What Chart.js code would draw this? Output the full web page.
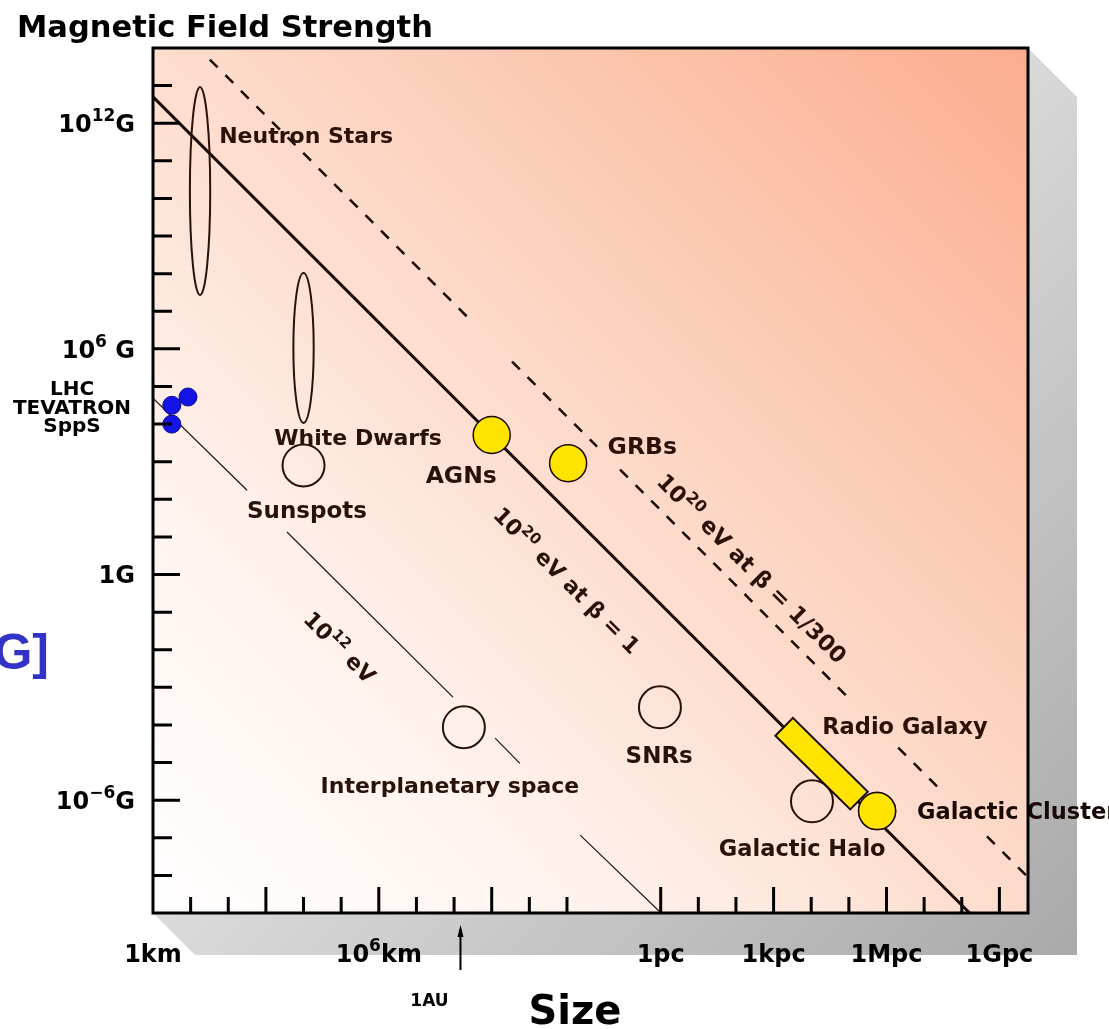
<!DOCTYPE html>
<html>
<head>
<meta charset="utf-8">
<title>Magnetic Field Strength</title>
<script src="https://cdn.jsdelivr.net/npm/chart.js@4.4.0/dist/chart.umd.min.js"></script>
<style>
html, body { margin: 0; padding: 0; background: #fff; }
#wrap { width: 1109px; height: 1029px; }
</style>
</head>
<body>
<div id="wrap"><canvas id="hillas" width="1109" height="1029"></canvas></div>
<script>
// axes are log10(size / km) and log10(B / gauss)
const xRange = [0, 23.25];
const yRange = [-9, 14];

// 10^20 eV at beta = 1
const solidX = [0, 21.7];
const solidY = [12.70, -9.0];

// 10^20 eV at beta = 1/300, broken where labels sit on it
const dashX = [1.51, 8.42, null, 9.54, 11.8, null, 12.41, 18.58, null, 19.8, 20.97, null, 22.16, 23.25];
const dashY = [13.69, 6.78, null, 5.66, 3.40, null, 2.79, -3.38, null, -4.60, -5.77, null, -6.96, -8.05];

// 10^12 eV
const thinX = [0, 2.5, null, 3.56, 7.97, null, 9.09, 9.75, null, 11.35, 13.5];
const thinY = [4.69, 2.24, null, 1.13, -3.26, null, -4.35, -5.02, null, -6.93, -9.0];

// open circles: White Dwarfs, Interplanetary space, SNRs, Galactic Halo
const openX = [4.0, 8.26, 13.47, 17.51];
const openY = [2.9, -4.06, -3.53, -6.03];

// yellow circles: AGNs, GRBs, Galactic Cluster
const yellowX = [9.0, 11.03, 19.24];
const yellowY = [3.71, 2.96, -6.29];

// accelerators: LHC, TEVATRON, SppS
const accelX = [0.93, 0.5, 0.5];
const accelY = [4.72, 4.5, 4.0];

// Radio Galaxy band along the beta = 1 line
const radioX = [16.77, 18.76];
const radioY = [-4.05, -6.01];

// ellipses: Neutron Stars, White Dwarfs (size range, field range)
const ellipseX = [[0.98, 1.52], [3.73, 4.27]];
const ellipseY = [[7.43, 12.96], [4.03, 8.02]];

// ticks
const yTicks = [-8, -7, -6, -5, -4, -3, -2, -1, 0, 1, 2, 3, 4, 5, 6, 7, 8, 9, 10, 11, 12, 13];
const yMajor = [-6, 0, 6, 12];
const yTickLabels = ['10^{\u22126}G', '1G', '10^{6} G', '10^{12}G'];
const xTicks = [1, 2, 3, 4, 5, 6, 7, 8, 9, 10, 11, 13.49, 14.49, 15.49, 16.49, 17.49, 18.49, 19.49, 20.49, 21.49, 22.49];
const xMajor = [3, 6, 9, 13.49, 16.49, 19.49, 22.49];
const xLabelValues = [0, 6, 13.49, 16.49, 19.49, 22.49];
const xTickLabels = ['1km', '10^{6}km', '1pc', '1kpc', '1Mpc', '1Gpc'];
const auValue = 8.17;

const pts = (xs, ys) => xs.map((x, i) => ({ x: x, y: ys[i] }));

const ink = '#2b1209';
const yellow = '#ffe400';
const labelFont = '"DejaVu Sans"';

// text annotations inside the plot, placed in data coordinates
const notes = [
    { t: 'Neutron Stars', x: 4.07, y: 11.69, size: 22 },
    { t: 'White Dwarfs', x: 5.45, y: 3.65, size: 22 },
    { t: 'Sunspots', x: 4.09, y: 1.71, size: 23 },
    { t: 'AGNs', x: 8.19, y: 2.67, size: 23.5 },
    { t: 'GRBs', x: 13.0, y: 3.44, size: 23.5 },
    { t: 'Radio Galaxy', x: 19.98, y: -4.03 },
    { t: 'Galactic Cluster', x: 20.3, y: -6.29, align: 'left', color: '#1a0a05' },
    { t: 'Galactic Halo', x: 17.25, y: -7.28 },
    { t: 'SNRs', x: 13.45, y: -4.80, size: 23 },
    { t: 'Interplanetary space', x: 7.89, y: -5.60, size: 22 },
    { t: '10^{20} eV at \u03b2 = 1', x: 11.0, y: -0.15, angle: Math.PI / 4, size: 22 },
    { t: '10^{20} eV at \u03b2 = 1/300', x: 15.92, y: 0.17, angle: Math.PI / 4 },
    { t: '10^{12} eV', x: 4.97, y: -1.93, angle: Math.PI / 4, size: 22 }
];

const splitRuns = function(str) {
    const out = [];
    const re = /\^\{([^}]*)\}/g;
    let last = 0, m;
    while ((m = re.exec(str))) {
        if (m.index > last) out.push({ t: str.slice(last, m.index), sup: false });
        out.push({ t: m[1], sup: true });
        last = re.lastIndex;
    }
    if (last < str.length) out.push({ t: str.slice(last), sup: false });
    return out;
};

// draws text with superscripts, y is the vertical middle of the capitals
const drawRich = function(ctx, str, x, y, o) {
    const size = o.size || 22.5;
    const family = o.family || labelFont;
    const big = 'bold ' + size + 'px ' + family;
    const small = 'bold ' + Math.round(size * 0.7) + 'px ' + family;
    const parts = splitRuns(str);
    let w = 0;
    parts.forEach(p => {
        ctx.font = p.sup ? small : big;
        p.w = ctx.measureText(p.t).width;
        w += p.w;
    });
    ctx.save();
    ctx.translate(x, y);
    if (o.angle) ctx.rotate(o.angle);
    ctx.fillStyle = o.color || ink;
    ctx.textAlign = 'left';
    ctx.textBaseline = 'alphabetic';
    let cx = o.align === 'left' ? 0 : (o.align === 'right' ? -w : -w / 2);
    const base = size * 0.36;
    parts.forEach(p => {
        ctx.font = p.sup ? small : big;
        ctx.fillText(p.t, cx, p.sup ? base - size * 0.45 : base);
        cx += p.w;
    });
    ctx.restore();
};

const backdrop = {
    id: 'backdrop',
    beforeDraw(chart) {
        const ctx = chart.ctx;
        const a = chart.chartArea;
        ctx.save();
        ctx.fillStyle = '#fff';
        ctx.fillRect(0, 0, chart.width, chart.height);

        // drop shadow behind the frame
        const sg = ctx.createLinearGradient(a.left + 420, a.top + 420, a.right + 49, a.bottom + 42);
        sg.addColorStop(0, '#dcdcdc');
        sg.addColorStop(1, '#a9a9a9');
        ctx.fillStyle = sg;
        ctx.beginPath();
        ctx.moveTo(a.right, a.top);
        ctx.lineTo(a.right + 49, a.top + 49);
        ctx.lineTo(a.right + 49, a.bottom + 42);
        ctx.lineTo(a.left + 42, a.bottom + 42);
        ctx.lineTo(a.left, a.bottom);
        ctx.closePath();
        ctx.fill();

        // plot face, white in the lower left to salmon in the upper right
        const g = ctx.createLinearGradient(a.left, a.bottom, a.right, a.top);
        g.addColorStop(0, '#ffffff');
        g.addColorStop(0.25, '#fff3ee');
        g.addColorStop(0.5, '#fddccc');
        g.addColorStop(1, '#fbad8d');
        ctx.fillStyle = g;
        ctx.fillRect(a.left, a.top, a.right - a.left, a.bottom - a.top);
        ctx.restore();
    }
};

const overlay = {
    id: 'overlay',
    afterDatasetsDraw(chart) {
        const ctx = chart.ctx;
        const a = chart.chartArea;
        const xs = chart.scales.x, ys = chart.scales.y;
        const px = v => xs.getPixelForValue(v);
        const py = v => ys.getPixelForValue(v);

        ctx.save();
        ctx.beginPath();
        ctx.rect(a.left, a.top, a.right - a.left, a.bottom - a.top);
        ctx.clip();

        // Neutron Star and White Dwarf ranges
        ctx.strokeStyle = ink;
        ctx.lineWidth = 2;
        ellipseX.forEach((r, i) => {
            const x0 = px(r[0]), x1 = px(r[1]);
            const y0 = py(ellipseY[i][1]), y1 = py(ellipseY[i][0]);
            ctx.beginPath();
            ctx.ellipse((x0 + x1) / 2, (y0 + y1) / 2, (x1 - x0) / 2, (y1 - y0) / 2, 0, 0, Math.PI * 2);
            ctx.stroke();
        });

        // Radio Galaxy bar
        const rx0 = px(radioX[0]), ry0 = py(radioY[0]);
        const rx1 = px(radioX[1]), ry1 = py(radioY[1]);
        const len = Math.hypot(rx1 - rx0, ry1 - ry0);
        ctx.save();
        ctx.translate(rx0, ry0);
        ctx.rotate(Math.atan2(ry1 - ry0, rx1 - rx0));
        ctx.fillStyle = yellow;
        ctx.fillRect(0, -12.5, len, 25);
        ctx.lineWidth = 2;
        ctx.strokeStyle = '#1a0a05';
        ctx.strokeRect(0, -12.5, len, 25);
        ctx.restore();
        ctx.restore();

        // yellow circle re-drawn above the bar
        const meta = chart.getDatasetMeta(1);
        meta.data[2].draw(ctx, a);

        // annotations
        notes.forEach(n => {
            drawRich(ctx, n.t, px(n.x), py(n.y), n);
        });

        // frame
        ctx.save();
        ctx.strokeStyle = '#000';
        ctx.lineWidth = 3;
        ctx.strokeRect(a.left, a.top, a.right - a.left, a.bottom - a.top);

        // inward ticks
        ctx.lineWidth = 3;
        ctx.beginPath();
        yTicks.forEach(v => {
            const len = yMajor.includes(v) ? 27 : 19;
            ctx.moveTo(a.left, py(v));
            ctx.lineTo(a.left + len, py(v));
        });
        xTicks.forEach(v => {
            const len = xMajor.includes(v) ? 26 : 16;
            ctx.moveTo(px(v), a.bottom);
            ctx.lineTo(px(v), a.bottom - len);
        });
        ctx.stroke();
        ctx.restore();

        // tick labels
        yMajor.forEach((v, i) => {
            drawRich(ctx, yTickLabels[i], a.left - 18, py(v), { size: 24, align: 'right', color: '#000' });
        });
        xLabelValues.forEach((v, i) => {
            drawRich(ctx, xTickLabels[i], px(v), a.bottom + 40, { size: 24, color: '#000' });
        });

        // 1 AU marker
        const ax = px(auValue);
        ctx.save();
        ctx.strokeStyle = '#000';
        ctx.fillStyle = '#000';
        ctx.lineWidth = 2;
        ctx.beginPath();
        ctx.moveTo(ax, a.bottom + 57);
        ctx.lineTo(ax, a.bottom + 16);
        ctx.stroke();
        ctx.beginPath();
        ctx.moveTo(ax, a.bottom + 12);
        ctx.lineTo(ax - 3, a.bottom + 24);
        ctx.lineTo(ax + 3, a.bottom + 24);
        ctx.closePath();
        ctx.fill();
        ctx.restore();
        drawRich(ctx, '1AU', ax - 31, a.bottom + 87, { size: 17, color: '#000' });

        // accelerator names
        ['LHC', 'TEVATRON', 'SppS'].forEach((t, i) => {
            drawRich(ctx, t, 72, 388 + i * 18.5, { size: 20, color: '#000' });
        });

        // titles
        drawRich(ctx, 'Magnetic Field Strength', 17, 26, { size: 30.5, align: 'left', color: '#000' });
        drawRich(ctx, 'Size', 575, 1010, { size: 40, color: '#000' });
        ctx.save();
        ctx.font = 'bold 50px "Liberation Sans"';
        ctx.fillStyle = '#3333c8';
        ctx.textAlign = 'right';
        ctx.fillText('B [G]', 49, 669);
        ctx.restore();
    }
};

const ctx = document.getElementById('hillas').getContext('2d');
const chart = new Chart(ctx, {
    type: 'scatter',
    data: {
        datasets: [
            {
                label: 'accelerators',
                data: pts(accelX, accelY),
                pointRadius: 9,
                pointBackgroundColor: '#1414e6',
                pointBorderColor: '#0a0a8c',
                pointBorderWidth: 1,
                order: 0
            },
            {
                label: 'yellow',
                data: pts(yellowX, yellowY),
                pointRadius: 18.5,
                pointBackgroundColor: yellow,
                pointBorderColor: '#1a0a05',
                pointBorderWidth: 1.5,
                order: 1
            },
            {
                label: 'open',
                data: pts(openX, openY),
                pointRadius: 21,
                pointBackgroundColor: 'rgba(0,0,0,0)',
                pointBorderColor: ink,
                pointBorderWidth: 2,
                order: 1
            },
            {
                label: '10^20 eV, beta = 1',
                data: pts(solidX, solidY),
                showLine: true,
                borderColor: '#1a0a05',
                borderWidth: 3,
                pointRadius: 0,
                order: 3
            },
            {
                label: '10^20 eV, beta = 1/300',
                data: pts(dashX, dashY),
                showLine: true,
                spanGaps: false,
                borderColor: '#1a0a05',
                borderWidth: 2.5,
                borderDash: [11, 11],
                pointRadius: 0,
                order: 3
            },
            {
                label: '10^12 eV',
                data: pts(thinX, thinY),
                showLine: true,
                spanGaps: false,
                borderColor: '#2b1209',
                borderWidth: 1.2,
                pointRadius: 0,
                order: 3
            }
        ]
    },
    options: {
        responsive: false,
        animation: false,
        events: [],
        layout: { padding: { left: 153, right: 81, top: 48, bottom: 116 } },
        plugins: {
            legend: { display: false },
            tooltip: { enabled: false }
        },
        scales: {
            x: { type: 'linear', min: xRange[0], max: xRange[1], display: false },
            y: { type: 'linear', min: yRange[0], max: yRange[1], display: false }
        }
    },
    plugins: [backdrop, overlay]
});
</script>
</body>
</html>
